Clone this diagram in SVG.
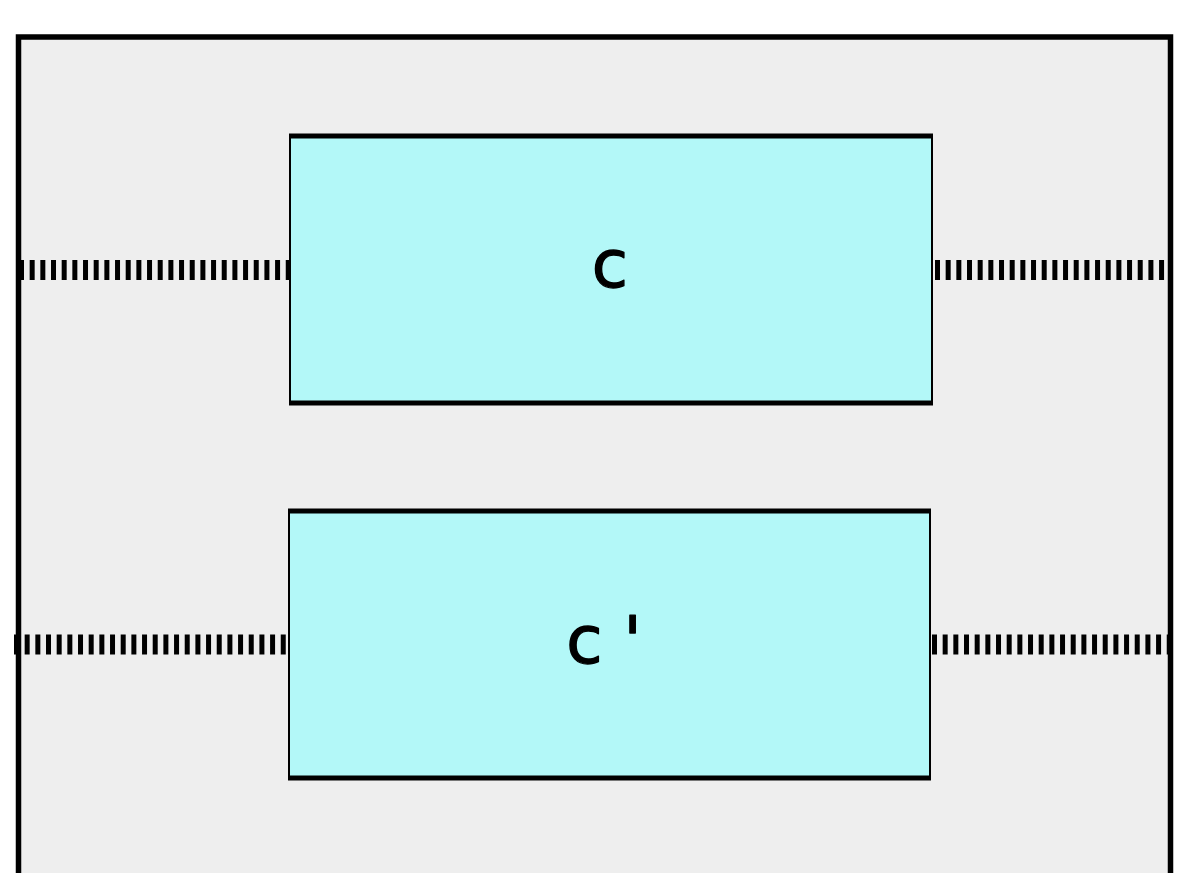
<svg xmlns="http://www.w3.org/2000/svg" width="1179" height="873" viewBox="0 0 1179 873">
<style>
.frame{fill:#eeeeee;stroke:#000;stroke-width:5.5}
.box{fill:#b3f8f8;stroke:#000;stroke-width:2}
.edge{stroke:#000;stroke-width:5}
.conn{stroke:#000;stroke-width:20;stroke-dasharray:5 5.67;fill:none}
.lbl{font-family:"DejaVu Sans",sans-serif;font-size:66px;fill:#000;stroke:#000;stroke-width:1.3;stroke-linejoin:round}
</style>
<rect width="1179" height="873" fill="#fff"/>
<g id="frame"><rect class="frame" x="18.5" y="37" width="1152" height="850"/></g>
<g id="connectors">
<line class="conn" x1="19" y1="270" x2="290" y2="270"/>
<line class="conn" x1="935" y1="270" x2="1166" y2="270"/>
<line class="conn" x1="14" y1="644.5" x2="288" y2="644.5"/>
<line class="conn" x1="932" y1="644.5" x2="1171" y2="644.5"/>
</g>
<g id="node-c">
<rect class="box" x="290" y="136" width="642" height="267"/>
<line class="edge" x1="289" y1="136" x2="933" y2="136"/>
<line class="edge" x1="289" y1="403" x2="933" y2="403"/>
<text class="lbl" x="610" y="287" text-anchor="middle">c</text>
</g>
<g id="node-c-prime">
<rect class="box" x="289" y="511" width="641" height="267"/>
<line class="edge" x1="288" y1="511" x2="931" y2="511"/>
<line class="edge" x1="288" y1="778" x2="931" y2="778"/>
<text class="lbl" x="604" y="663" text-anchor="middle">c '</text>
</g>
</svg>
